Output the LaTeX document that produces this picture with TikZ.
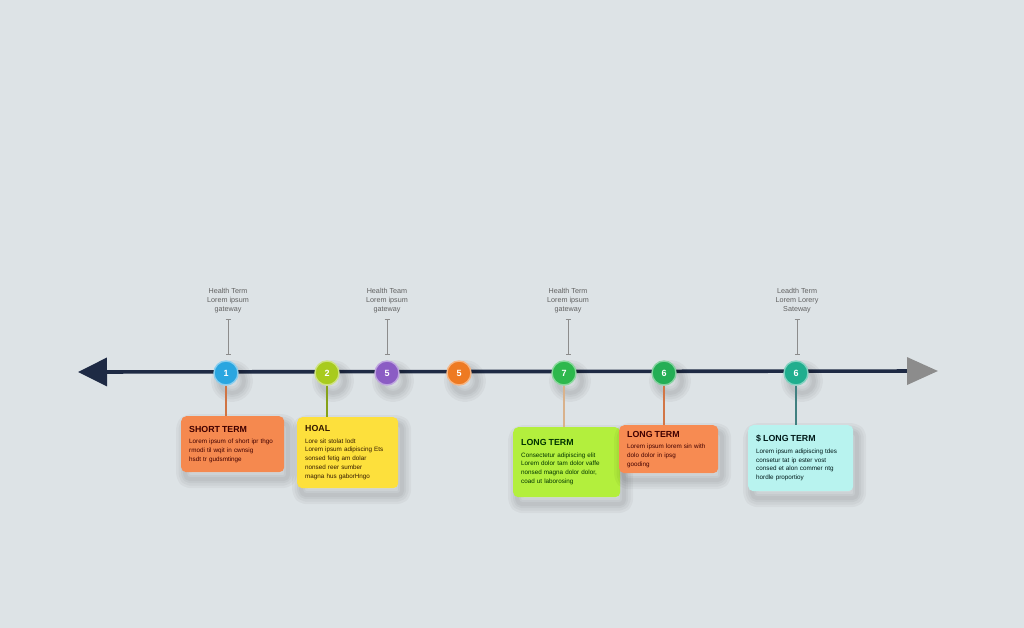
\documentclass[tikz,border=0pt]{standalone}
\usepackage{fontspec}
\setmainfont{Liberation Sans}
\usetikzlibrary{arrows.meta}
\definecolor{bg}{HTML}{DDE3E6}
\definecolor{navy}{HTML}{1E2A44}
\definecolor{cBlue}{HTML}{2AA6E0}
\definecolor{cLime}{HTML}{A8CB1E}
\definecolor{cPurple}{HTML}{8B5CC4}
\definecolor{cOrange}{HTML}{EE7A22}
\definecolor{cGreen}{HTML}{2DB84C}
\definecolor{cGreenB}{HTML}{24AE55}
\definecolor{cTeal}{HTML}{20AE8E}
\definecolor{bOrange}{HTML}{F5894F}
\definecolor{bYellow}{HTML}{FDE03C}
\definecolor{bLime}{HTML}{B3EF3D}
\definecolor{bOrangeB}{HTML}{F78B52}
\definecolor{bCyan}{HTML}{B8F3EF}
\newcommand\cardttl[1]{{\bfseries\fontsize{8.8}{10}\selectfont #1}}
\tikzset{
  shlayer/.style args={#1 at #2/#3}{preaction={draw=black,draw opacity=0.035,line width=#1,line join=round,
     transform canvas={xshift=#2,yshift=#3}}},
  softshadow/.style args={#1/#2}{shlayer=18pt at #1/#2,shlayer=13pt at #1/#2,shlayer=8pt at #1/#2,shlayer=4pt at #1/#2},
  dot/.style={circle,minimum size=24pt,inner sep=0pt,fill=#1,draw=#1!55!white,line width=1.4pt,
    text=white,font=\bfseries\fontsize{9}{9}\selectfont,softshadow=6pt/-8pt},
  toplabel/.style={align=center,text=black!62,font=\fontsize{7.2}{9}\selectfont,inner sep=0pt},
  ibar/.style={draw=black!45,line width=0.8pt,{Bar[width=5pt]}-{Bar[width=5pt]}},
  card/.style={anchor=north west,fill=#1,rounded corners=5pt,align=left,inner xsep=8pt,inner ysep=0pt,
    font=\fontsize{6.3}{8.8}\selectfont,softshadow=4pt/-7pt},
  link/.style={line width=1.1pt,draw=#1},
}
\begin{document}
\begin{tikzpicture}[x=1pt,y=-1pt]
\fill[bg] (0,0) rectangle (1024,628);
\useasboundingbox (0,0) rectangle (1024,628);

% axis
\coordinate (L) at (78,372);
\coordinate (R) at (938,371);
\draw[navy,line width=3.6pt,{Triangle[length=29pt,width=28pt]}-{Triangle[length=31pt,width=27pt,color=black!45]}] (L) -- (R);

% dots
\node[dot=cBlue]   (c1) at (226,373) {1};
\node[dot=cLime]   (c2) at (327,373) {2};
\node[dot=cPurple] (c3) at (387,373) {5};
\node[dot=cOrange] (c4) at (459,373) {5};
\node[dot=cGreen]  (c5) at (564,373) {7};
\node[dot=cGreenB] (c6) at (664,373) {6};
\node[dot=cTeal]   (c7) at (796,373) {6};

% top labels
\node[toplabel] (t1) at (228,301) {Health Term\\Lorem ipsum\\gateway};
\node[toplabel] (t2) at (387,301) {Health Team\\Lorem ipsum\\gateway};
\node[toplabel] (t3) at (568,301) {Health Term\\Lorem ipsum\\gateway};
\node[toplabel] (t4) at (797,301) {Leadth Term\\Lorem Lorery\\Sateway};
\draw[ibar] ([yshift=-5pt]t1.south) -- ([yshift=6pt]t1.south |- c1.north);
\draw[ibar] ([yshift=-5pt]t2.south) -- ([yshift=6pt]t2.south |- c3.north);
\draw[ibar] ([yshift=-5pt]t3.south) -- ([yshift=6pt]t3.south |- c5.north);
\draw[ibar] ([yshift=-5pt]t4.south) -- ([yshift=6pt]t4.south |- c7.north);

% cards
\node[card=bOrange,text=black!75!red,minimum width=101pt,minimum height=56pt,text width=87pt] (b1) at (181,416)
  {\cardttl{SHORT TERM}\\[2.5pt]Lorem ipsum of short ipr thgo\\rmodi til wqit in cwnsig\\hsdt tr gudsmtinge};
\node[card=bYellow,text=black!80!orange,minimum width=99pt,minimum height=71pt,text width=85pt] (b2) at (297,417)
  {\cardttl{HOAL}\\[2.5pt]Lore sit stolat lodt\\Lorem ipsum adipiscing Ets\\sonsed fetig am dolar\\nonsed reer sumber\\magna hus gaborHngo};
\node[card=bLime,text=black!80!green,minimum width=105pt,minimum height=70pt,text width=91pt] (b3) at (513,427)
  {\cardttl{LONG TERM}\\[2.5pt]Consectetur adipiscing elit\\Lorem dolor tam dolor vaffe\\nonsed magna dolor dolor,\\coad ut laborosing};
\node[card=bOrangeB,text=black!75!red,minimum width=97pt,minimum height=48pt,text width=83pt] (b4) at (619,425)
  {\cardttl{LONG TERM}\\[2.5pt]Lorem ipsum lorem sin with\\dolo dolor in ipsg\\gooding};
\node[card=bCyan,text=black!80!teal,minimum width=103pt,minimum height=66pt,text width=89pt] (b5) at (748,425)
  {\cardttl{\$ LONG TERM}\\[2.5pt]Lorem ipsum adipiscing tdes\\consetur tat ip ester vost\\consed et alon commer ntg\\hordle proportioy};

% links
\draw[link=bOrange!85!black] (c1.south) -- (c1.south |- b1.north);
\draw[link=cLime!80!black] (c2.south) -- (c2.south |- b2.north);
\draw[link=brown!60!white] (c5.south) -- (c5.south |- b3.north);
\draw[link=bOrangeB!85!black] (c6.south) -- (c6.south |- b4.north);
\draw[link=teal!50!gray] (c7.south) -- (c7.south |- b5.north);
\end{tikzpicture}
\end{document}
